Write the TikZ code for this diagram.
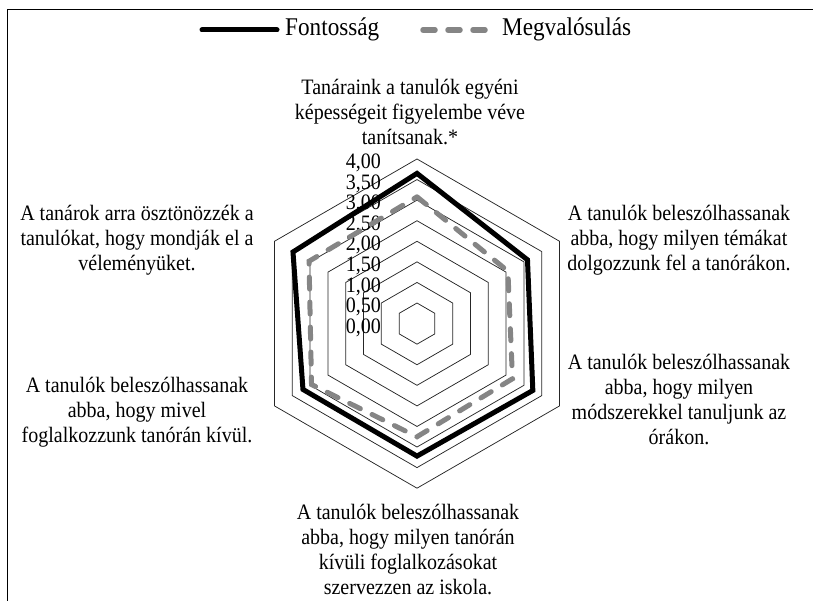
\documentclass[tikz,border=0pt]{standalone}
\usepackage{fontspec}
\setmainfont{Liberation Serif}[FakeStretch=0.91]
\begin{document}
\begin{tikzpicture}[x=1pt,y=1pt]
    \useasboundingbox (0,0) rectangle (813,601);

    \tikzstyle{lnode} = [align=center, inner sep=0pt, font=\fontsize{22}{25}\selectfont]
    \tikzstyle{vnode} = [anchor=east, inner sep=0pt, font=\fontsize{22}{25}\selectfont]
    \tikzstyle{gline} = [draw=black!85, line width=0.75pt]
    \tikzstyle{fline} = [draw=black, line width=5pt]
    \tikzstyle{mline} = [draw=black!48, line width=5pt, line cap=round, dash pattern=on 12pt off 13pt]

    % frame
    \draw[black, line width=0.8pt] (7,-20) -- (7,592) -- (830,592);

    % legend
    \coordinate (fa) at (202,571);
    \coordinate (fb) at (277,571);
    \coordinate (ma) at (423,571);
    \coordinate (mb) at (486,571);
    \draw[fline, line cap=round] (fa) -- (fb);
    \draw[mline, line width=5.5pt] (ma) -- (mb);
    \node[lnode, anchor=base west, font=\fontsize{25.5}{28}\selectfont] (lf) at (285,565) {Fontosság};
    \node[lnode, anchor=base west, font=\fontsize{25.5}{28}\selectfont] (lm) at (502,565) {Megvalósulás};

    \begin{scope}[shift={(417,277.4)}]
      % grid
      \foreach \v in {0.5,1,...,4}
        \draw[gline] (90:\v*41.15) -- (30:\v*41.15) -- (-30:\v*41.15) -- (-90:\v*41.15) -- (-150:\v*41.15) -- (150:\v*41.15) -- cycle;

      % scale
      \foreach \v/\t [count=\i] in {0/{0,00},0.5/{0,50},1/{1,00},1.5/{1,50},2/{2,00},2.5/{2,50},3/{3,00},3.5/{3,50},4/{4,00}}
        \node[vnode] (val\i) at (-36,\v*41.15-4) {\t};

      % Fontosság
      \draw[fline] (90:3.65*41.15) -- (30:3.1*41.15) -- (-30:3.25*41.15) -- (-90:3.22*41.15) -- (-150:3.2*41.15) -- (150:3.48*41.15) -- cycle;
      % Megvalósulás
      \draw[mline] (90:3.08*41.15) -- (30:2.55*41.15) -- (-30:2.68*41.15) -- (-90:2.75*41.15) -- (-150:2.96*41.15) -- (150:3.03*41.15) -- cycle;
    \end{scope}

    % axis labels
    \node[lnode] (a1) at (410,488.5) {Tanáraink a tanulók egyéni\\képességeit figyelembe véve\\tanítsanak.*};
    \node[lnode] (a2) at (679,361) {A tanulók beleszólhassanak\\abba, hogy milyen témákat\\dolgozzunk fel a tanórákon.};
    \node[lnode] (a3) at (679,201.5) {A tanulók beleszólhassanak\\abba, hogy milyen\\módszerekkel tanuljunk az\\órákon.};
    \node[lnode] (a4) at (408,51.5) {A tanulók beleszólhassanak\\abba, hogy milyen tanórán\\kívüli foglalkozásokat\\szervezzen az iskola.};
    \node[lnode] (a5) at (137,189) {A tanulók beleszólhassanak\\abba, hogy mivel\\foglalkozzunk tanórán kívül.};
    \node[lnode] (a6) at (137,361) {A tanárok arra ösztönözzék a\\tanulókat, hogy mondják el a\\véleményüket.};
\end{tikzpicture}
\end{document}
